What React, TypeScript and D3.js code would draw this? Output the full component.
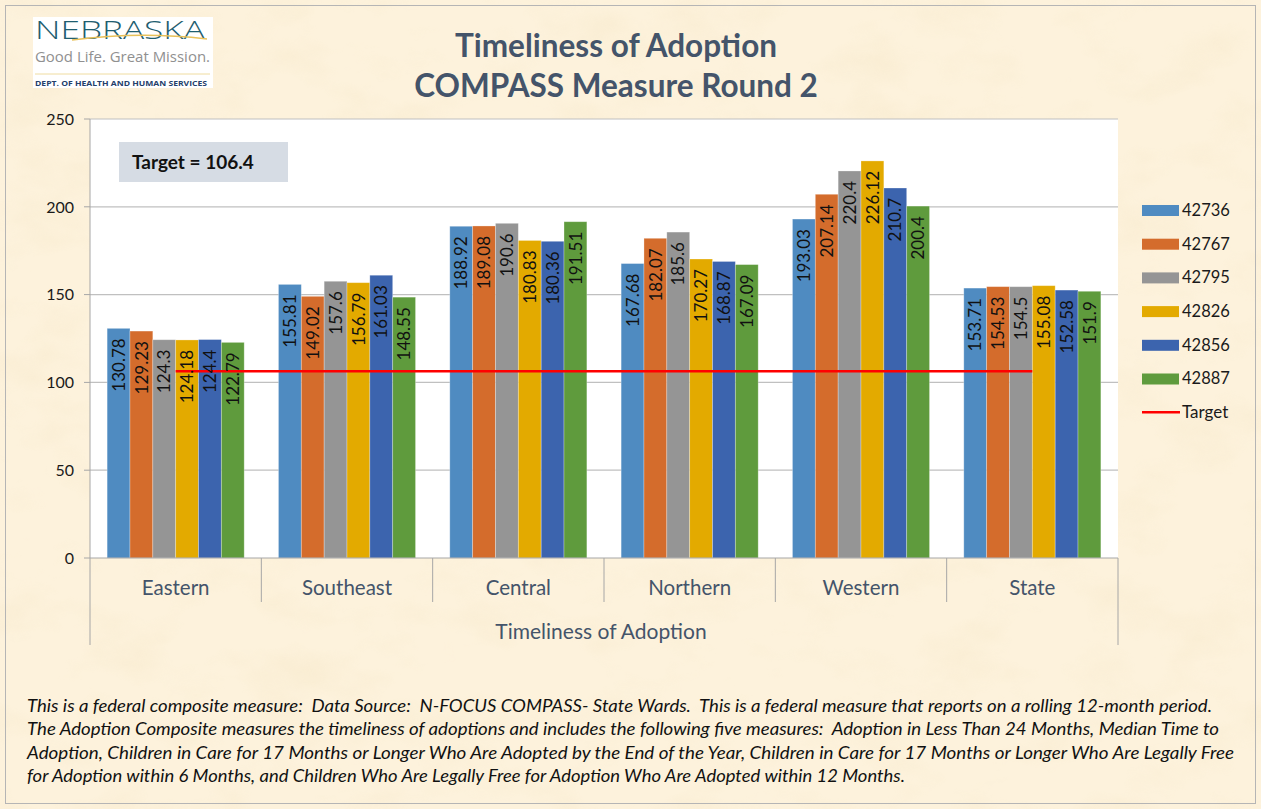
import React from 'react';
import * as d3 from 'd3';

const categories = ['Eastern', 'Southeast', 'Central', 'Northern', 'Western', 'State'];
const seriesNames = ['42736', '42767', '42795', '42826', '42856', '42887'];
const s42736 = [130.78, 155.81, 188.92, 167.68, 193.03, 153.71];
const s42767 = [129.23, 149.02, 189.08, 182.07, 207.14, 154.53];
const s42795 = [124.3, 157.6, 190.6, 185.6, 220.4, 154.5];
const s42826 = [124.18, 156.79, 180.83, 170.27, 226.12, 155.08];
const s42856 = [124.4, 161.03, 180.36, 168.87, 210.7, 152.58];
const s42887 = [122.79, 148.55, 191.51, 167.09, 200.4, 151.9];
const targetValues = [106.4, 106.4, 106.4, 106.4, 106.4, 106.4];
const yTicks = [0, 50, 100, 150, 200, 250];

const seriesValues = [s42736, s42767, s42795, s42826, s42856, s42887];
const colors = ['#4f8bc1', '#d46c2c', '#959595', '#e3aa00', '#3c64ae', '#5f9b3d'];

const footnote = [
  'This is a federal composite measure:  Data Source:  N-FOCUS COMPASS- State Wards.  This is a federal measure that reports on a rolling 12-month period.',
  'The Adoption Composite measures the timeliness of adoptions and includes the following five measures:  Adoption in Less Than 24 Months, Median Time to',
  'Adoption, Children in Care for 17 Months or Longer Who Are Adopted by the End of the Year, Children in Care for 17 Months or Longer Who Are Legally Free',
  'for Adoption within 6 Months, and Children Who Are Legally Free for Adoption Who Are Adopted within 12 Months.',
];
const footnoteWidths = [1185, 1192, 1207, 878];

const W = 1261;
const H = 809;
const left = 90;
const right = 1118;
const top = 119;
const bottom = 558;
const font = 'Lato, "Open Sans", sans-serif';
const logoFont = '"Open Sans", Lato, sans-serif';
const slate = '#44546a';

export default function App() {
  const x0 = d3.scaleBand<string>().domain(categories).range([left, right]).paddingInner(0.2).paddingOuter(0.1);
  const x1 = d3.scaleBand<string>().domain(seriesNames).range([0, x0.bandwidth()]).padding(0);
  const y = d3.scaleLinear().domain([0, 250]).range([bottom, top]);
  const step = x0.step();
  const center = (c: string) => (x0(c) as number) + x0.bandwidth() / 2;

  const targetLine = d3.line<number>()
    .x((_, i) => center(categories[i]))
    .y((d) => y(d));

  return (
    <svg width={W} height={H} style={{ position: 'absolute', left: 0, top: 0, fontFamily: font }}>
      <defs>
        <filter id="paper" x="0" y="0" width="100%" height="100%">
          <feTurbulence type="fractalNoise" baseFrequency="0.012 0.02" numOctaves="4" seed="7" />
          <feColorMatrix type="matrix" values="0 0 0 0 0.90  0 0 0 0 0.78  0 0 0 0 0.55  1.3 0 0 0 -0.62" />
        </filter>
      </defs>

      {/* background */}
      <rect x={0} y={0} width={W} height={H} fill="#fdf2dc" />
      <rect x={0} y={0} width={W} height={H} filter="url(#paper)" opacity={0.6} />
      <rect x={5.5} y={5.5} width={W - 11} height={H - 11} fill="none" stroke="#b5b5b5" />

      {/* logo */}
      <g fontFamily={logoFont}>
        <rect x={33} y={17} width={180} height={71} fill="#ffffff" />
        <text x={35} y={39} fontSize={25} fontWeight={300} fill="#1f5e70" textLength={170} lengthAdjust="spacingAndGlyphs">NEBRASKA</text>
        <path d="M72,40 Q140,31 207,39" fill="none" stroke="#e8c15a" strokeWidth={1.6} />
        <text x={35} y={62} fontSize={14.5} fill="#909090" textLength={175} lengthAdjust="spacingAndGlyphs">Good Life. Great Mission.</text>
        <line x1={35} x2={210} y1={74} y2={74} stroke="#efdca0" strokeWidth={1} />
        <text x={35} y={86} fontSize={7.2} fontWeight={700} fill="#24406b" textLength={172} lengthAdjust="spacingAndGlyphs">DEPT. OF HEALTH AND HUMAN SERVICES</text>
      </g>

      {/* title */}
      <text x={616} y={57} textAnchor="middle" fontSize={31.5} fontWeight={700} fill={slate}>Timeliness of Adoption</text>
      <text x={616} y={97} textAnchor="middle" fontSize={31.5} fontWeight={700} fill={slate}>COMPASS Measure Round 2</text>

      {/* plot area */}
      <rect x={left} y={top} width={right - left} height={bottom - top} fill="#ffffff" />
      {yTicks.map((t) => (
        <g key={t}>
          {t > 0 && <line x1={left} x2={right} y1={y(t)} y2={y(t)} stroke="#c0c0c0" strokeWidth={1.2} />}
          <line x1={84} x2={left} y1={y(t)} y2={y(t)} stroke="#a6a6a6" />
          <text x={74} y={y(t)} dy="0.36em" textAnchor="end" fontSize={16} fill="#1a1a1a">{t}</text>
        </g>
      ))}
      <line x1={left} x2={left} y1={top} y2={bottom} stroke="#a6a6a6" />

      {/* target box */}
      <rect x={119} y={142} width={169} height={40} fill="#d6dce4" />
      <text x={132} y={169} fontSize={19} fontWeight={700} fill="#111">Target = 106.4</text>

      {/* bars */}
      {seriesNames.map((s, si) => (
        <g key={s}>
          {categories.map((c, ci) => {
            const v = seriesValues[si][ci];
            const bx = (x0(c) as number) + (x1(s) as number);
            return (
              <rect key={c} x={bx} y={y(v)} width={x1.bandwidth()} height={bottom - y(v)}
                fill={colors[si]} stroke="#ffffff" strokeOpacity={0.35} strokeWidth={0.8} />
            );
          })}
        </g>
      ))}

      {/* target line */}
      <path d={targetLine(targetValues) || ''} fill="none" stroke="#ff0000" strokeWidth={2.5} />

      {/* data labels */}
      {seriesNames.map((s, si) => (
        <g key={s}>
          {categories.map((c, ci) => {
            const v = seriesValues[si][ci];
            const cx = (x0(c) as number) + (x1(s) as number) + x1.bandwidth() / 2;
            return (
              <text key={c} transform={`translate(${cx},${y(v) + 10}) rotate(-90)`} dy="0.36em"
                textAnchor="end" fontSize={17} fill="#111">{v}</text>
            );
          })}
        </g>
      ))}

      {/* x axis */}
      <line x1={left} x2={right} y1={bottom} y2={bottom} stroke="#a6a6a6" />
      {categories.map((c, i) => {
        const bx = center(c) - step / 2;
        return (
          <line key={c} x1={bx} x2={bx} y1={bottom} y2={i === 0 ? 645 : 602} stroke="#a6a6a6" />
        );
      })}
      <line x1={right} x2={right} y1={bottom} y2={645} stroke="#a6a6a6" />
      {categories.map((c) => (
        <text key={c} x={center(c)} y={588} dy="0.36em" textAnchor="middle" fontSize={20.5} fill={slate}>{c}</text>
      ))}
      <text x={601} y={631} dy="0.36em" textAnchor="middle" fontSize={21} fill={slate}>Timeliness of Adoption</text>

      {/* legend */}
      {seriesNames.map((s, i) => (
        <g key={s} transform={`translate(1142,${210 + i * 33.7})`}>
          <rect x={0} y={-5} width={37} height={11} fill={colors[i]} />
          <text x={40} y={0} dy="0.36em" fontSize={16.5} fill="#1a1a1a">{s}</text>
        </g>
      ))}
      <g transform={`translate(1142,${210 + 6 * 33.7})`}>
        <line x1={0} x2={38} y1={0} y2={0} stroke="#ff0000" strokeWidth={2.5} />
        <text x={40} y={0} dy="0.36em" fontSize={17} fill="#1a1a1a">Target</text>
      </g>

      {/* footnote */}
      {footnote.map((t, i) => (
        <text key={i} x={27} y={712 + i * 23.4} fontSize={16.5} fontStyle="italic" fill="#111"
          style={{ whiteSpace: 'pre' }} textLength={footnoteWidths[i]} lengthAdjust="spacingAndGlyphs">{t}</text>
      ))}
    </svg>
  );
}
